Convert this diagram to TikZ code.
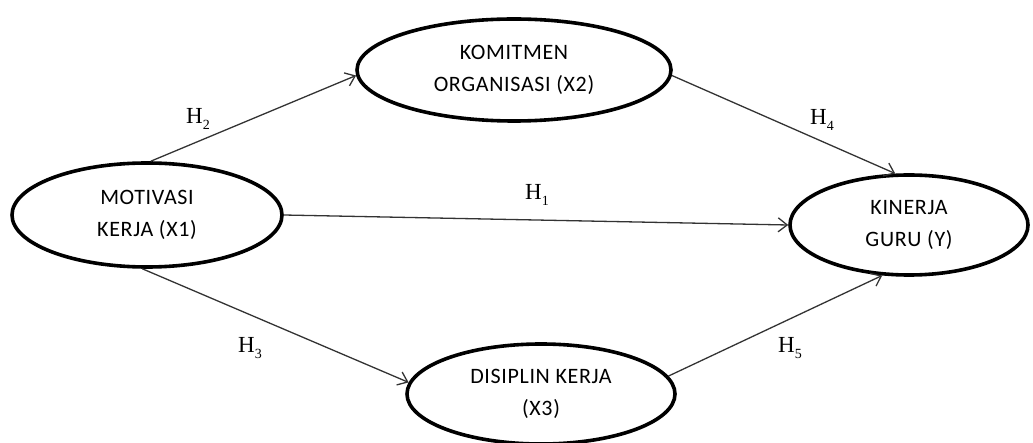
\documentclass[tikz,border=0pt]{standalone}
\usepackage{fontspec}
\newfontfamily\boxfont[LetterSpace=3]{Carlito}
\newfontfamily\hypfont{Liberation Serif}
\usetikzlibrary{shapes.geometric,arrows.meta}

% hypothesis label: H with a lowered index
\newcommand{\hyplabel}[1]{H\raisebox{-0.28em}{\fontsize{14}{14}\selectfont #1}}

\tikzset{
  varbox/.style={ellipse, draw=black, line width=3.6pt, fill=white, align=center,
    inner sep=0pt, font=\boxfont\fontsize{22}{32}\selectfont, text=black},
  path/.style={draw=black!80, line width=1.3pt,
    -{Straight Barb[length=9pt,width=14pt,line width=1.3pt]}},
  hyp/.style={font=\hypfont\fontsize{23}{26}\selectfont, text=black, inner sep=0pt}
}

\begin{document}
\begin{tikzpicture}[x=1pt,y=-1pt]
  \useasboundingbox (0,0) rectangle (1033,443);

  % latent variables
  \node[varbox, minimum width=270pt, minimum height=104pt] (mot) at (147,215) {MOTIVASI\\KERJA (X1)};
  \node[varbox, minimum width=314pt, minimum height=102pt] (kom) at (514,70) {KOMITMEN\\ORGANISASI (X2)};
  \node[varbox, minimum width=238pt, minimum height=100pt] (kin) at (909,225) {KINERJA\\GURU (Y)};
  \node[varbox, minimum width=268pt, minimum height=100pt] (dis) at (541,394) {DISIPLIN KERJA\\(X3)};

  % hypothesised paths
  \draw[path] (mot.86) -- (kom.182);
  \draw[path] (kom.358) -- (kin.105);
  \draw[path] (mot.east) -- (kin.west);
  \draw[path] (mot.265) -- (dis.175);
  \draw[path] (dis.8) -- (kin.242);

  % path labels
  \node[hyp] (h2) at (198,119) {\hyplabel{2}};
  \node[hyp] (h4) at (822,120) {\hyplabel{4}};
  \node[hyp] (h1) at (537,195) {\hyplabel{1}};
  \node[hyp] (h3) at (250,348) {\hyplabel{3}};
  \node[hyp] (h5) at (790,348) {\hyplabel{5}};
\end{tikzpicture}
\end{document}
